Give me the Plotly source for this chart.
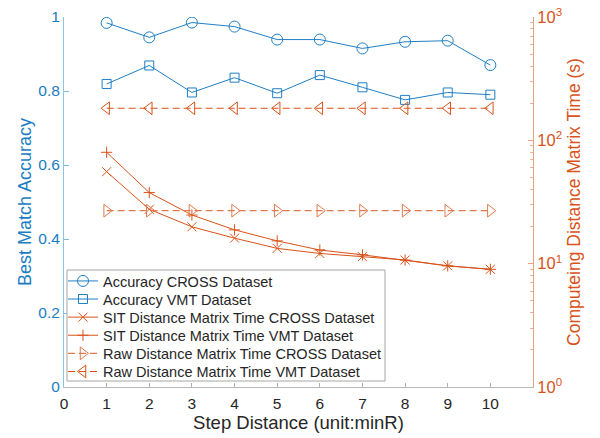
import plotly.graph_objects as go

steps = [1, 2, 3, 4, 5, 6, 7, 8, 9, 10]
acc_cross = [0.984, 0.945, 0.985, 0.974, 0.939, 0.939, 0.915, 0.933, 0.936, 0.870]
acc_vmt = [0.819, 0.869, 0.796, 0.836, 0.794, 0.843, 0.810, 0.776, 0.796, 0.790]
sit_cross = [55.7, 27.6, 19.9, 16.1, 13.3, 12.1, 11.4, 10.7, 9.6, 9.0]
sit_vmt = [80.0, 37.7, 24.8, 18.8, 15.3, 12.9, 11.8, 10.7, 9.6, 9.0]
raw_cross = [26.9] * 10
raw_vmt = [182.0] * 10

names = [
    "Accuracy CROSS Dataset",
    "Accuracy VMT Dataset",
    "SIT Distance Matrix Time CROSS Dataset",
    "SIT Distance Matrix Time VMT Dataset",
    "Raw Distance Matrix Time CROSS Dataset",
    "Raw Distance Matrix Time VMT Dataset",
]

BLUE = "#1f7fc4"
ORANGE = "#D95319"
ORANGE_L = "#e07a4e"
FONT = "Liberation Sans, Arial, Helvetica, sans-serif"

# plot area geometry (px) used for legend placement
PL, PR, PT, PB = 64, 533, 17, 387
PW, PH = PR - PL, PB - PT

fig = go.Figure()
legend_ids = ["legend", "legend2", "legend3", "legend4", "legend5", "legend6"]

fig.add_trace(go.Scatter(x=steps, y=acc_cross, name=names[0], mode="lines+markers", legend=legend_ids[0],
                         line=dict(color=BLUE, width=1),
                         marker=dict(symbol="circle-open", size=11, color=BLUE, line=dict(width=1))))
fig.add_trace(go.Scatter(x=steps, y=acc_vmt, name=names[1], mode="lines+markers", legend=legend_ids[1],
                         line=dict(color=BLUE, width=1),
                         marker=dict(symbol="square-open", size=9, color=BLUE, line=dict(width=1))))
fig.add_trace(go.Scatter(x=steps, y=sit_cross, name=names[2], mode="lines+markers", yaxis="y2", legend=legend_ids[2],
                         line=dict(color=ORANGE, width=1),
                         marker=dict(symbol="x-thin-open", size=9, color=ORANGE, line=dict(width=1, color=ORANGE))))
fig.add_trace(go.Scatter(x=steps, y=sit_vmt, name=names[3], mode="lines+markers", yaxis="y2", legend=legend_ids[3],
                         line=dict(color=ORANGE, width=1),
                         marker=dict(symbol="cross-thin-open", size=8, color=ORANGE, line=dict(width=1, color=ORANGE))))
fig.add_trace(go.Scatter(x=steps, y=raw_cross, name=names[4], mode="lines+markers", yaxis="y2", legend=legend_ids[4],
                         line=dict(color=ORANGE_L, width=1.3, dash="7px,4px"),
                         marker=dict(symbol="triangle-right-open", size=11, color=ORANGE_L, line=dict(width=1))))
fig.add_trace(go.Scatter(x=steps, y=raw_vmt, name=names[5], mode="lines+markers", yaxis="y2", legend=legend_ids[5],
                         line=dict(color=ORANGE, width=1.1, dash="7px,4px"),
                         marker=dict(symbol="triangle-left-open", size=11, color=ORANGE, line=dict(width=1))))

minor_vals = []
for d in [1, 10, 100]:
    for k in range(2, 10):
        minor_vals.append(k * d)

legend_layout = {}
row0, row_gap = 281.0, 18.1
for i, lid in enumerate(legend_ids):
    rowy = row0 + i * row_gap
    legend_layout[lid] = dict(
        x=(63 - PL) / PW, y=(PB - rowy) / PH, xanchor="left", yanchor="middle",
        bgcolor="rgba(0,0,0,0)", borderwidth=0,
        font=dict(size=14.5, color="#262626"), itemwidth=30,
    )

fig.update_layout(
    width=600, height=438,
    margin=dict(l=PL, r=600 - PR, t=PT, b=438 - PB, autoexpand=False),
    paper_bgcolor="white", plot_bgcolor="white",
    font=dict(family=FONT, size=14, color="#262626"),
    showlegend=True,
    shapes=[dict(type="rect", xref="paper", yref="paper",
                 x0=(67 - PL) / PW, x1=(385 - PL) / PW,
                 y0=(PB - 381) / PH, y1=(PB - 270) / PH,
                 fillcolor="white", line=dict(color="#a6a6a6", width=1), layer="above")],
    xaxis=dict(range=[0, 11], tickmode="array", tickvals=list(range(0, 11)),
               ticks="inside", ticklen=4, tickcolor="#b0b0b0", automargin=False,
               showline=True, linecolor="#b8b8b8", linewidth=1,
               showgrid=False, zeroline=False,
               tickfont=dict(size=15.5, color="#262626"), ticklabelstandoff=2,
               title=dict(text="Step Distance (unit:minR)", font=dict(size=18.5, color="#262626"), standoff=1)),
    yaxis=dict(range=[0, 1], tickmode="array", tickvals=[0, 0.2, 0.4, 0.6, 0.8, 1],
               ticktext=["0", "0.2", "0.4", "0.6", "0.8", "1"],
               ticks="inside", ticklen=5, tickcolor="#7fb8dc", automargin=False,
               showline=True, linecolor="#8cc2e2", linewidth=1,
               showgrid=False, zeroline=False,
               tickfont=dict(size=15.5, color="#1a7cc2"),
               title=dict(text="Best Match Accuracy", font=dict(size=18, color="#1a7cc2"), standoff=2)),
    yaxis2=dict(type="log", range=[0, 3], overlaying="y", side="right", anchor="x",
                tickmode="array", tickvals=[1, 10, 100, 1000],
                ticktext=["10<sup>0</sup>", "10<sup>1</sup>", "10<sup>2</sup>", "10<sup>3</sup>"],
                ticks="inside", ticklen=5, tickcolor="#e8a07f", automargin=False,
                minor=dict(tickmode="array", tickvals=minor_vals, ticks="inside", ticklen=3, tickcolor="#eab49a", showgrid=False),
                showline=True, linecolor="#e8a07f", linewidth=1,
                showgrid=False, zeroline=False,
                tickfont=dict(size=16.5, color=ORANGE),
                title=dict(text="Computeing Distance Matrix Time (s)", font=dict(size=17.5, color=ORANGE), standoff=6)),
    **legend_layout,
)

fig.write_html("out.html")
